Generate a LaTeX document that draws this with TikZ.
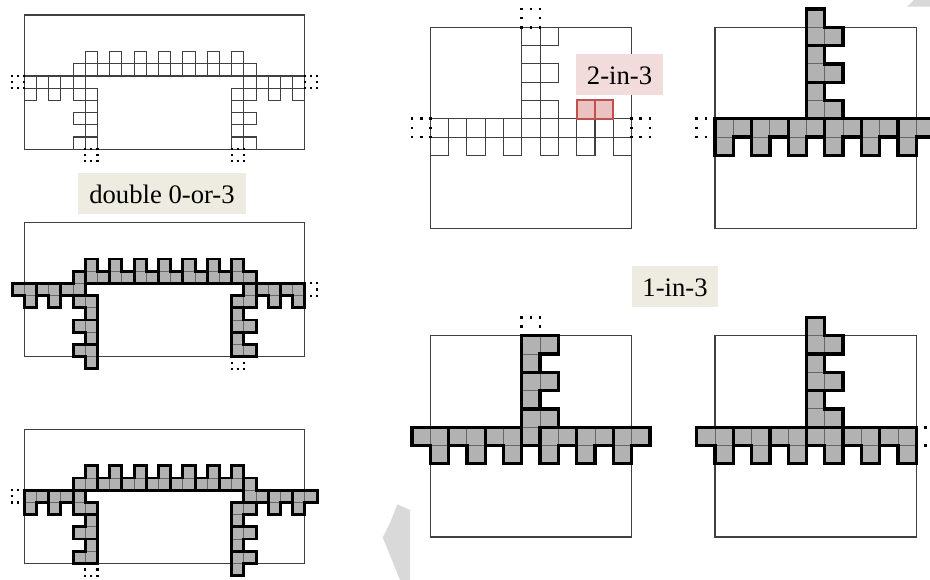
\documentclass[tikz,border=0pt]{standalone}
\usepackage{fontspec}
\setmainfont{Liberation Serif}
\definecolor{tagtan}{RGB}{238,236,225}
\definecolor{tagpink}{RGB}{242,220,219}
\definecolor{redcell}{RGB}{192,80,77}
\definecolor{graycell}{RGB}{178,178,178}
\definecolor{backmark}{RGB}{217,217,217}
\newcommand{\pieces}[1]{%
\foreach \cx/\cy/\dx/\dy in {#1}{
\fill[graycell,shift={(\cx+.5,\cy+.5)},xscale=\dx,yscale=\dy] (-.5,-.5)--(1.5,-.5)--(1.5,.5)--(.5,.5)--(.5,1.5)--(-.5,1.5)--cycle;
\draw[seam,shift={(\cx+.5,\cy+.5)},xscale=\dx,yscale=\dy] (.5,-.5)--(.5,.5)--(-.5,.5);
}
\foreach \cx/\cy/\dx/\dy in {#1}{
\draw[bold,shift={(\cx+.5,\cy+.5)},xscale=\dx,yscale=\dy] (-.5,-.5)--(1.5,-.5)--(1.5,.5)--(.5,.5)--(.5,1.5)--(-.5,1.5)--cycle;
}}
\newcommand{\dotcell}[3]{\foreach \u/\v in {0/0,.5/0,1/0,0/.5,1/.5,0/1,.5/1,1/1}{\fill[black] (#2+\u-#1,#3+\v-#1) rectangle ++(2*#1,2*#1);}}
\begin{document}
\begin{tikzpicture}[x=.75pt,y=-.75pt]
\tikzstyle{frame}=[draw=black!75,line width=.8pt]
\tikzstyle{seam}=[draw=black!60,line width=.7pt]
\tikzstyle{opencell}=[draw=black!75,line width=.8pt]
\tikzstyle{bold}=[draw=black,line width=2.2pt,line join=miter]
\tikzstyle{tagbox}=[minimum height=30.75pt,inner sep=0pt,text height=14.7pt,text depth=0pt,font=\fontsize{20}{22}\selectfont]
\useasboundingbox (0,0) rectangle (930,580);
\fill[backmark] (397.3,504.3)--(410,510)--(410,580)--(400,580)--(382.7,537.3)--(390,523)--cycle;
\fill[backmark] (907,6.7)--(914,0)--(930,0)--(930,6.7)--cycle;
% arch, open cells
\begin{scope}[shift={(24.3,15)},scale=12.2]
\draw[frame] (0,0) rectangle (23,11);
\foreach \i in {5,7,...,17} \draw[opencell] (\i,3) rectangle ++(1,1);
\foreach \i in {4,...,18} \draw[opencell] (\i,4) rectangle ++(1,1);
\foreach \i in {0,...,4,18,19,...,22} \draw[opencell] (\i,5) rectangle ++(1,1);
\foreach \i in {0,2,4,18,20,22} \draw[opencell] (\i,6) rectangle ++(1,1);
\foreach \j in {6,...,10} {\draw[opencell] (5,\j) rectangle ++(1,1);\draw[opencell] (17,\j) rectangle ++(1,1);}
\foreach \j in {8,10} {\draw[opencell] (4,\j) rectangle ++(1,1);\draw[opencell] (18,\j) rectangle ++(1,1);}
\foreach \i/\j in {-1/5,23/5,5/11,17/11} {\dotcell{.09}{\i}{\j}}
\end{scope}
% arch, open cells right and below
\begin{scope}[shift={(24.3,222.4)},scale=12.2]
\draw[frame] (0,0) rectangle (23,11);
\pieces{0/5/-1/1,2/5/-1/1,4/5/-1/-1,5/6/-1/1,5/8/-1/1,5/10/-1/1,5/4/1/-1,7/4/1/-1,9/4/1/-1,11/4/1/-1,13/4/1/-1,15/4/1/-1,17/4/1/-1,18/6/-1/-1,17/8/1/-1,17/10/1/-1,20/5/-1/1,22/5/-1/1}
\foreach \i/\j in {23/5,17/11} {\dotcell{.09}{\i}{\j}}
\end{scope}
% arch, open cells left and below
\begin{scope}[shift={(24.3,429.2)},scale=12.2]
\draw[frame] (0,0) rectangle (23,11);
\pieces{0/5/1/1,2/5/1/1,5/4/-1/-1,7/4/-1/-1,9/4/-1/-1,11/4/-1/-1,13/4/-1/-1,15/4/-1/-1,17/4/-1/-1,18/5/1/-1,20/5/1/1,22/5/1/1,17/6/1/1,17/8/1/1,17/10/1/1,4/6/1/-1,5/8/-1/-1,5/10/-1/-1}
\foreach \i/\j in {-1/5,5/11} {\dotcell{.09}{\i}{\j}}
\end{scope}
% junction, open cells
\begin{scope}[shift={(430.3,27.3)},scale=18.3]
\draw[frame] (0,0) rectangle (11,11);
\foreach \j in {0,...,4} \draw[opencell] (5,\j) rectangle ++(1,1);
\foreach \j in {0,2,4} \draw[opencell] (6,\j) rectangle ++(1,1);
\foreach \i in {0,...,10} \draw[opencell] (\i,5) rectangle ++(1,1);
\foreach \i in {0,2,...,10} \draw[opencell] (\i,6) rectangle ++(1,1);
\draw[redcell,line width=1.5pt,fill=redcell,fill opacity=.35] (8,4) rectangle ++(1,1);
\draw[redcell,line width=1.5pt,fill=redcell,fill opacity=.35] (9,4) rectangle ++(1,1);
\foreach \i/\j in {5/-1,-1/5,11/5} {\dotcell{.074}{\i}{\j}}
\end{scope}
\begin{scope}[shift={(715,27.3)},scale=18.3,bold/.style={draw=black,line width=2.5pt}]
\draw[frame] (0,0) rectangle (11,11);
\pieces{0/5/1/1,2/5/1/1,4/5/1/1,6/5/1/1,8/5/1/1,10/5/1/1,5/0/1/-1,5/2/1/-1,5/4/1/-1}
\dotcell{.074}{-1}{5}
\end{scope}
\begin{scope}[shift={(430.3,335.7)},scale=18.3,bold/.style={draw=black,line width=2.5pt}]
\draw[frame] (0,0) rectangle (11,11);
\pieces{0/5/-1/1,2/5/-1/1,4/5/-1/1,6/5/1/1,8/5/1/1,10/5/1/1,5/0/1/1,5/2/1/1,5/4/1/1}
\dotcell{.074}{5}{-1}
\end{scope}
\begin{scope}[shift={(715,335.7)},scale=18.3,bold/.style={draw=black,line width=2.5pt}]
\draw[frame] (0,0) rectangle (11,11);
\pieces{0/5/-1/1,2/5/-1/1,4/5/-1/1,6/5/-1/1,8/5/-1/1,10/5/-1/1,5/0/1/-1,5/2/1/-1,5/4/1/-1}
\dotcell{.074}{11}{5}
\end{scope}
\node[tagbox,fill=tagtan,minimum width=126pt] (double) at (162,193.5) {double 0-or-3};
\node[tagbox,fill=tagpink,minimum width=65.25pt] (twoin) at (619.5,74.5) {2-in-3};
\node[tagbox,fill=tagtan,minimum width=64.5pt] (onein) at (675,286.5) {1-in-3};
\end{tikzpicture}
\end{document}
